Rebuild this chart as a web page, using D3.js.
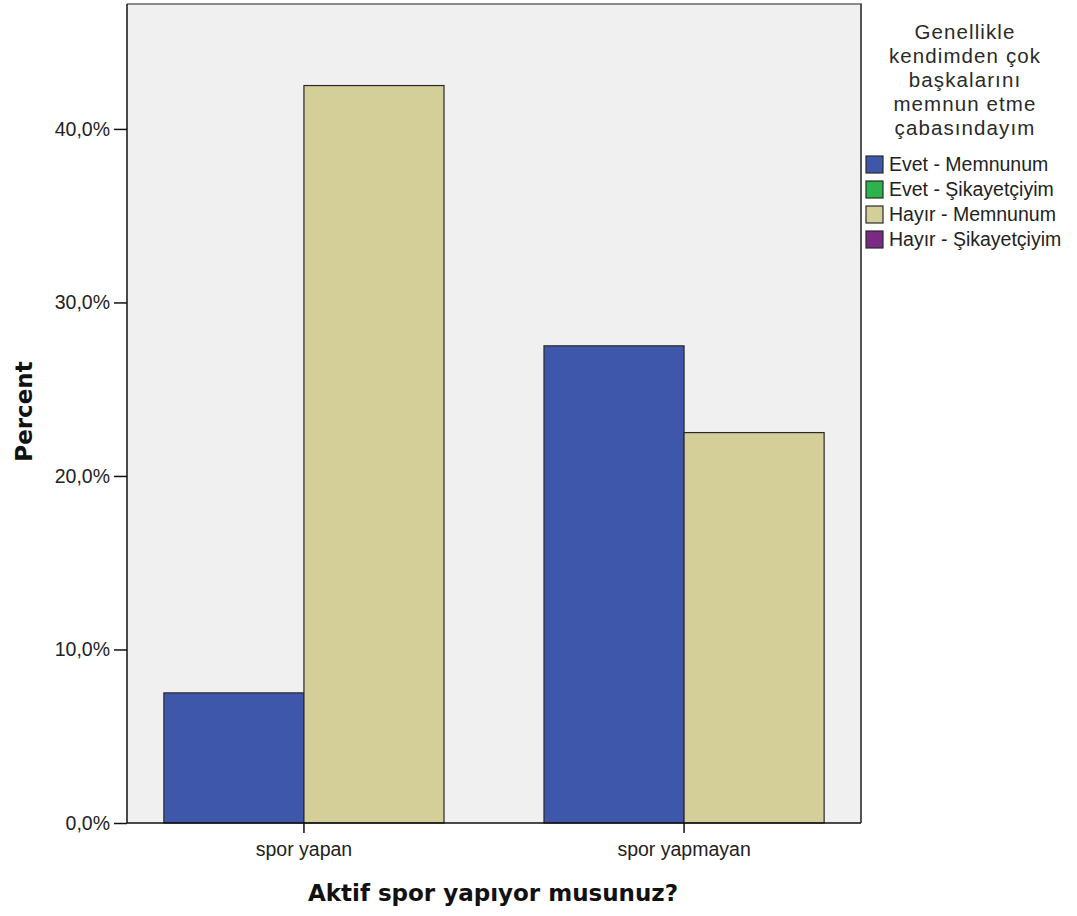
<!DOCTYPE html>
<html>
<head>
<meta charset="utf-8">
<script src="https://cdn.jsdelivr.net/npm/d3@7"></script>
<style>
  html, body { margin: 0; padding: 0; background: #ffffff; }
  svg { display: block; }
</style>
</head>
<body>
<svg id="chart" width="1077" height="916"></svg>
<script>
// ---- data ----
const categories = ["spor yapan", "spor yapmayan"];
const seriesNames = ["Evet - Memnunum", "Evet - Şikayetçiyim", "Hayır - Memnunum", "Hayır - Şikayetçiyim"];
const seriesColors = ["#3e57aa", "#2db34c", "#d4cf98", "#7b2a83"];
const evetMemnunum = [7.5, 27.5];
const evetSikayetciyim = [0, 0];
const hayirMemnunum = [42.5, 22.5];
const hayirSikayetciyim = [0, 0];
const seriesValues = [evetMemnunum, evetSikayetciyim, hayirMemnunum, hayirSikayetciyim];
const yTicks = [0, 10, 20, 30, 40];
const legendTitleLines = ["Genellikle", "kendimden çok", "başkalarını", "memnun etme", "çabasındayım"];
const xTitle = "Aktif spor yapıyor musunuz?";
const yTitle = "Percent";

// ---- layout ----
const plot = { left: 127, right: 861, top: 4, bottom: 823 };
const yMax = 47.2;

const svg = d3.select("#chart");

const x0 = d3.scaleBand()
  .domain(categories)
  .range([plot.left, plot.right])
  .paddingInner(0.263)
  .paddingOuter(0.097);

// only series with data are drawn (empty categories suppressed)
const drawnSeries = seriesNames.filter((s, i) => d3.sum(seriesValues[i]) > 0);
const x1 = d3.scaleBand()
  .domain(drawnSeries)
  .range([0, x0.bandwidth()]);

const y = d3.scaleLinear().domain([0, yMax]).range([plot.bottom, plot.top]);
const color = d3.scaleOrdinal().domain(seriesNames).range(seriesColors);

// plot background
svg.append("rect")
  .attr("x", plot.left).attr("y", plot.top)
  .attr("width", plot.right - plot.left).attr("height", plot.bottom - plot.top)
  .attr("fill", "#f0f0f0");

// bars
const rows = [];
categories.forEach((c, ci) => {
  drawnSeries.forEach(s => {
    const si = seriesNames.indexOf(s);
    rows.push({ cat: c, series: s, value: seriesValues[si][ci] });
  });
});
svg.append("g").selectAll("rect")
  .data(rows)
  .join("rect")
  .attr("x", d => x0(d.cat) + x1(d.series))
  .attr("y", d => y(d.value))
  .attr("width", x1.bandwidth())
  .attr("height", d => y(0) - y(d.value))
  .attr("fill", d => color(d.series))
  .attr("stroke", "#2a2a2a")
  .attr("stroke-width", 1.2);

// frame: top and right borders grey
svg.append("line")
  .attr("x1", plot.left).attr("x2", plot.right + 1)
  .attr("y1", plot.top).attr("y2", plot.top)
  .attr("stroke", "#8a8a8a").attr("stroke-width", 2);
svg.append("line")
  .attr("x1", plot.right).attr("x2", plot.right)
  .attr("y1", plot.top).attr("y2", plot.bottom)
  .attr("stroke", "#555").attr("stroke-width", 2);

// y axis
const fmt = v => d3.format(".1f")(v).replace(".", ",") + "%";
const yAxis = d3.axisLeft(y).tickValues(yTicks).tickFormat(fmt).tickSize(13).tickPadding(4);
const gy = svg.append("g").attr("transform", `translate(${plot.left},0)`).call(yAxis);
gy.select(".domain").attr("stroke", "#111").attr("stroke-width", 1.5)
  .attr("d", `M0,${plot.top}V${plot.bottom}`);
gy.selectAll(".tick line").attr("stroke", "#111").attr("stroke-width", 1.5);
gy.selectAll(".tick text")
  .attr("fill", "#222")
  .style("font-family", "'Liberation Sans', Arial, sans-serif")
  .style("font-size", "19.5px");

// x axis
const xAxis = d3.axisBottom(x0).tickSize(10).tickPadding(9);
const gx = svg.append("g").attr("transform", `translate(0,${plot.bottom})`).call(xAxis);
gx.select(".domain").attr("stroke", "#111").attr("stroke-width", 1.5)
  .attr("d", `M${plot.left},0H${plot.right}`);
gx.selectAll(".tick line").attr("stroke", "#111").attr("stroke-width", 1.5);
gx.selectAll(".tick text")
  .attr("fill", "#222")
  .style("font-family", "'Liberation Sans', Arial, sans-serif")
  .style("font-size", "19.5px");

// axis titles
svg.append("text")
  .attr("x", (plot.left + plot.right) / 2 - 1)
  .attr("y", 901)
  .attr("text-anchor", "middle")
  .style("font-family", "'DejaVu Sans', Verdana, sans-serif")
  .style("font-weight", "bold")
  .style("font-size", "23px")
  .attr("fill", "#111")
  .text(xTitle);

svg.append("text")
  .attr("transform", `translate(32,${(plot.top + plot.bottom) / 2 - 2}) rotate(-90)`)
  .attr("text-anchor", "middle")
  .style("font-family", "'DejaVu Sans', Verdana, sans-serif")
  .style("font-weight", "bold")
  .style("font-size", "23px")
  .attr("fill", "#111")
  .text(yTitle);

// legend
const legend = svg.append("g");
legend.selectAll("text.title")
  .data(legendTitleLines)
  .join("text")
  .attr("class", "title")
  .attr("x", 965)
  .attr("y", (d, i) => 38.5 + i * 24)
  .attr("text-anchor", "middle")
  .attr("fill", "#2a2a2a")
  .style("font-family", "'Liberation Sans', Arial, sans-serif")
  .style("font-size", "20.5px")
  .style("letter-spacing", "1.1px")
  .text(d => d);

const items = legend.selectAll("g.item")
  .data(seriesNames)
  .join("g")
  .attr("class", "item")
  .attr("transform", (d, i) => `translate(866,${156 + i * 25})`);
items.append("rect")
  .attr("width", 17).attr("height", 17)
  .attr("fill", d => color(d))
  .attr("stroke", "#2a2a2a").attr("stroke-width", 1.2);
items.append("text")
  .attr("x", 23).attr("y", 15)
  .attr("fill", "#222")
  .style("font-family", "'Liberation Sans', Arial, sans-serif")
  .style("font-size", "19.5px")
  .text(d => d);
</script>
</body>
</html>
